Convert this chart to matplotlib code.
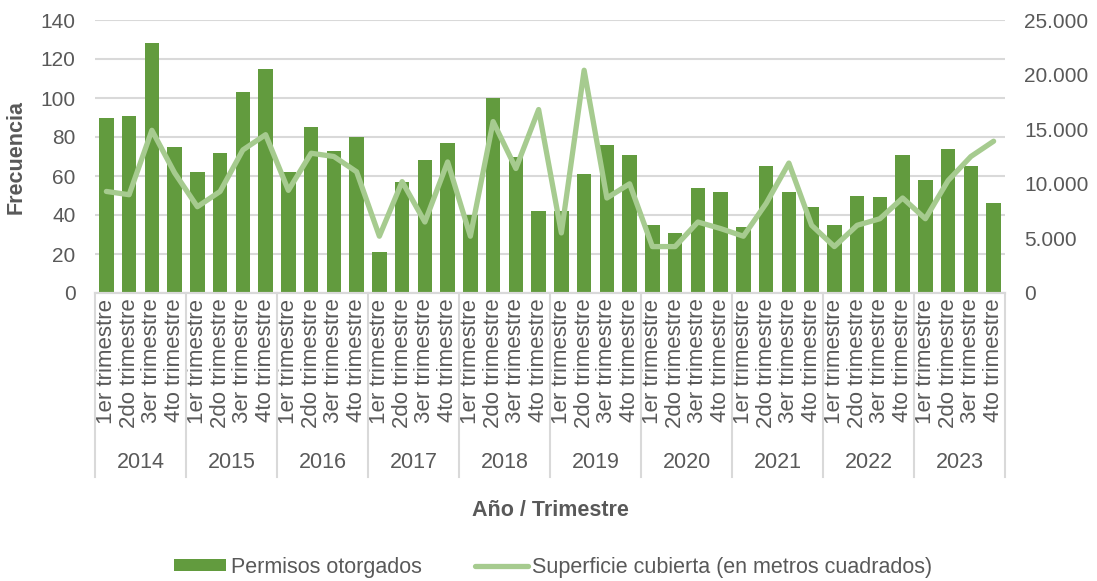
import matplotlib.pyplot as plt
from matplotlib.ticker import FuncFormatter
from matplotlib.transforms import blended_transform_factory

years = ["2014", "2015", "2016", "2017", "2018", "2019", "2020", "2021", "2022", "2023"]
quarters = ["1er trimestre", "2do trimestre", "3er trimestre", "4to trimestre"]

permisos = [90, 91, 128, 75,
            62, 72, 103, 115,
            62, 85, 73, 80,
            21, 57, 68, 77,
            40, 100, 70, 42,
            42, 61, 76, 71,
            35, 31, 54, 52,
            34, 65, 52, 44,
            35, 50, 49, 71,
            58, 74, 65, 46]

superficie = [9300, 9000, 14900, 11000,
              7900, 9300, 13100, 14500,
              9400, 12800, 12500, 11100,
              5200, 10200, 6500, 12000,
              5200, 15700, 11400, 16800,
              5500, 20400, 8700, 10000,
              4250, 4250, 6500, 5900,
              5200, 8200, 11900, 6200,
              4250, 6200, 6800, 8700,
              6800, 10300, 12500, 13900]

bar_color = "#629B3E"
line_color = "#A6CB8F"
text_color = "#595959"
grid_color = "#D9D9D9"

plt.rcParams["font.family"] = ["Liberation Sans", "DejaVu Sans"]
plt.rcParams["font.size"] = 15

fig = plt.figure(figsize=(10.97, 5.81), dpi=100)
ax = fig.add_axes([95 / 1097, 1 - 293 / 581, 910 / 1097, 273 / 581])
ax2 = ax.twinx()

labels = [q for y in years for q in quarters]
x = list(range(len(labels)))

ax.bar(x, permisos, width=0.64, color=bar_color, zorder=2, label="Permisos otorgados")
ax2.plot(x, superficie, color=line_color, lw=3.8, solid_joinstyle="round",
         solid_capstyle="round", label="Superficie cubierta (en metros cuadrados)")

ax.set_xlim(-0.5, len(x) - 0.5)
ax.set_ylim(0, 140)
ax.set_yticks(range(0, 141, 20))
ax2.set_ylim(0, 25000)
ax2.set_yticks(range(0, 25001, 5000))
ax2.yaxis.set_major_formatter(FuncFormatter(lambda v, p: f"{int(v):,}".replace(",", ".")))

ax.grid(axis="y", color=grid_color, lw=1.5)
ax.set_axisbelow(True)

for a in (ax, ax2):
    for s in ("top", "left", "right"):
        a.spines[s].set_visible(False)
    a.spines["bottom"].set_color(grid_color)
    a.spines["bottom"].set_linewidth(1.5)
    a.tick_params(axis="y", length=0, pad=14, colors=text_color, labelsize=15)

ax.set_xticks(x)
ax.set_xticklabels(labels, rotation=90, va="top", ha="center")
ax.tick_params(axis="x", length=0, pad=4, colors=text_color, labelsize=16)

# year group separators and labels under the quarter labels
trans = blended_transform_factory(ax.transData, ax.transAxes)
sep_depth = -(477 - 293) / 273
for k in range(len(years) + 1):
    ax.plot([k * 4 - 0.5, k * 4 - 0.5], [0, sep_depth], transform=trans,
            color=grid_color, lw=1.5, clip_on=False)
for k, yr in enumerate(years):
    ax.text(k * 4 + 1.5, -(463 - 293) / 273, yr, transform=trans,
            ha="center", va="center", color=text_color, fontsize=15.5)

ax.set_ylabel("Frecuencia", color=text_color, fontsize=15.5, fontweight="bold", labelpad=10)
fig.text(550 / 1097, 1 - 511 / 581, "Año / Trimestre", ha="center", va="center",
         color=text_color, fontsize=15.5, fontweight="bold")

h1, l1 = ax.get_legend_handles_labels()
h2, l2 = ax2.get_legend_handles_labels()
fig.legend(h1 + h2, l1 + l2, loc="center", bbox_to_anchor=(553 / 1097, 1 - 567 / 581),
           ncol=2, frameon=False, fontsize=15.5, labelcolor=text_color,
           handlelength=2.45, handleheight=0.45, handletextpad=0.2, columnspacing=2.5)

fig.savefig("out.png", dpi=100)
